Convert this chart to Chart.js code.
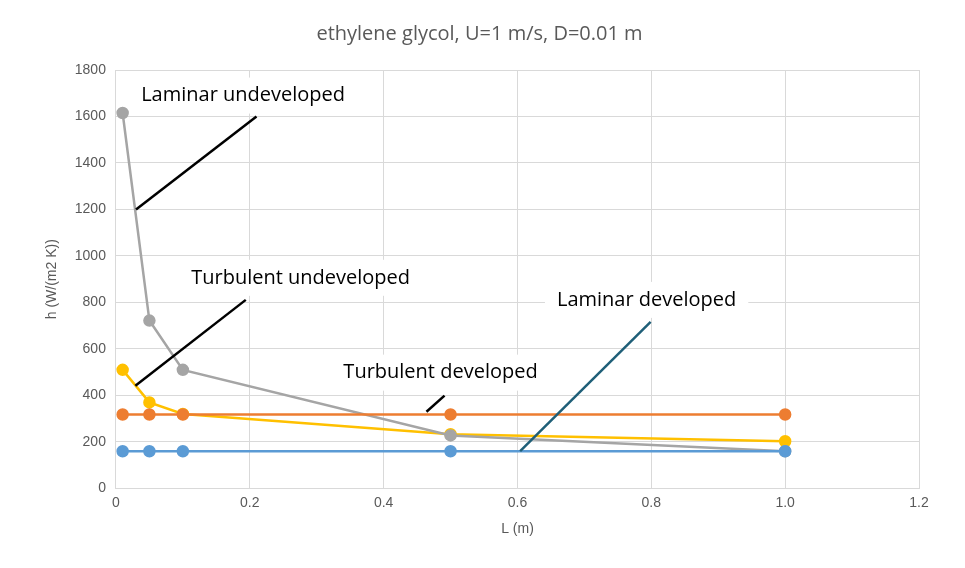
<!DOCTYPE html>
<html>
<head>
<meta charset="utf-8">
<script src="https://cdn.jsdelivr.net/npm/chart.js@4"></script>
<style>
body { margin: 0; background: #fff; }
#wrap { width: 965px; height: 568px; }
</style>
</head>
<body>
<div id="wrap"><canvas id="chart"></canvas></div>
<script>
// data
var lengths = [0.01, 0.05, 0.1, 0.5, 1];
var laminarDeveloped = [160, 160, 160, 160, 160];
var turbulentDeveloped = [318, 318, 318, 318, 318];
var laminarUndeveloped = [1615, 722, 510, 228, 160];
var turbulentUndeveloped = [510, 370, 320, 233, 203];

// callout labels: [text, x, y, lineFrom, lineTo, lineColor]
var callouts = [
    ["Laminar undeveloped", 0.19, 1690, [0.03, 1200], [0.21, 1600], "#000"],
    ["Turbulent undeveloped", 0.276, 906, [0.029, 442], [0.194, 811], "#000"],
    ["Laminar developed", 0.793, 811, [0.604, 160], [0.799, 716], "#1f5f78"],
    ["Turbulent developed", 0.485, 498, [0.464, 330], [0.491, 399], "#000"]
];

function pts(ys) {
    return lengths.map(function (x, i) { return { x: x, y: ys[i] }; });
}

function series(label, ys, color) {
    return {
        label: label,
        data: pts(ys),
        showLine: true,
        borderColor: color,
        backgroundColor: color,
        borderWidth: 2.5,
        pointRadius: 5,
        pointHoverRadius: 5
    };
}

var calloutPlugin = {
    id: 'callouts',
    afterDatasetsDraw: function (chart) {
        var ctx = chart.ctx, xs = chart.scales.x, ys = chart.scales.y;
        ctx.save();
        ctx.font = '20px "Open Sans", "Noto Sans", sans-serif';
        ctx.textAlign = 'center';
        ctx.textBaseline = 'middle';
        callouts.forEach(function (c) {
            ctx.strokeStyle = c[5];
            ctx.lineWidth = 2.5;
            ctx.beginPath();
            ctx.moveTo(xs.getPixelForValue(c[3][0]), ys.getPixelForValue(c[3][1]));
            ctx.lineTo(xs.getPixelForValue(c[4][0]), ys.getPixelForValue(c[4][1]));
            ctx.stroke();
            var px = xs.getPixelForValue(c[1]), py = ys.getPixelForValue(c[2]);
            var w = ctx.measureText(c[0]).width;
            ctx.fillStyle = '#fff';
            ctx.fillRect(px - w / 2 - 12, py - 18, w + 24, 36);
            ctx.fillStyle = '#000';
            ctx.fillText(c[0], px, py);
        });
        ctx.restore();
    }
};

new Chart('chart', {
    type: 'scatter',
    data: {
        datasets: [
            series("Laminar developed", laminarDeveloped, "#5b9bd5"),
            series("Turbulent developed", turbulentDeveloped, "#ed7d31"),
            series("Laminar undeveloped", laminarUndeveloped, "#a5a5a5"),
            series("Turbulent undeveloped", turbulentUndeveloped, "#ffc000")
        ]
    },
    options: {
        responsive: true,
        maintainAspectRatio: false,
        animation: false,
        layout: { padding: { left: 40, right: 46, top: 12, bottom: 26 } },
        plugins: {
            legend: { display: false },
            tooltip: { enabled: false },
            title: {
                display: true,
                text: "ethylene glycol, U=1 m/s, D=0.01 m",
                color: '#595959',
                font: { size: 20, family: '"Open Sans", sans-serif', weight: 'normal' },
                padding: { top: 10, bottom: 24 }
            }
        },
        scales: {
            x: {
                min: 0, max: 1.2,
                ticks: { stepSize: 0.2, color: '#595959', font: { size: 14 }, padding: 6 },
                grid: { color: '#d9d9d9', drawTicks: false },
                border: { color: '#d9d9d9' },
                title: { display: true, text: 'L (m)', color: '#595959', font: { size: 14 } }
            },
            y: {
                min: 0, max: 1800,
                ticks: {
                    stepSize: 200, color: '#595959', font: { size: 14 }, padding: 10,
                    callback: function (v) { return String(v); }
                },
                grid: { color: '#d9d9d9', drawTicks: false },
                border: { color: '#d9d9d9' },
                title: { display: true, text: 'h (W/(m2 K))', color: '#595959', font: { size: 14 } }
            }
        }
    },
    plugins: [calloutPlugin]
});
</script>
</body>
</html>
